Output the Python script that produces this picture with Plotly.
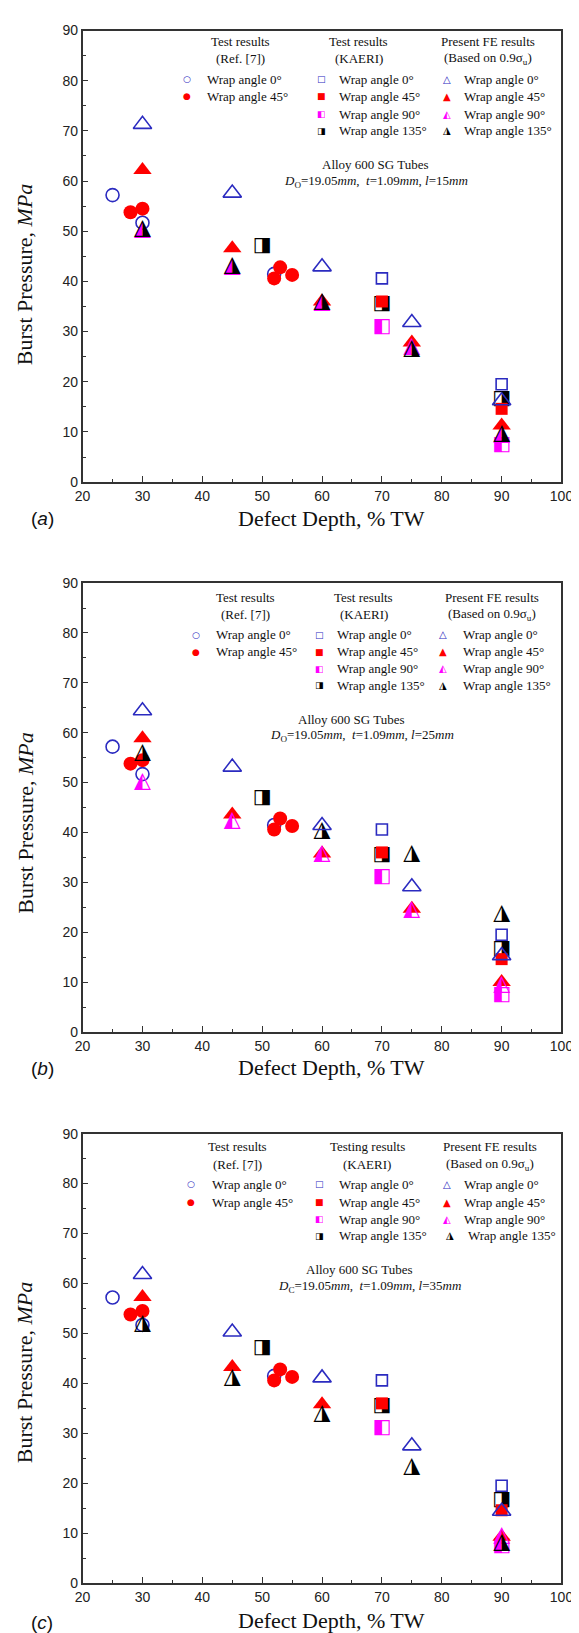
import plotly.graph_objects as go

W, H = 579, 1633

# ---------------- data ----------------
# Test results (Ref. [7]) - same in all panels
ref7_0_x = [25, 30, 52]
ref7_0_y = [57.2, 51.7, 41.5]
ref7_45_x = [28, 30, 52, 53, 55]
ref7_45_y = [53.8, 54.5, 40.6, 42.8, 41.3]

# Test results (KAERI) - same in all panels
kaeri_0_x = [70, 90]
kaeri_0_y = [40.6, 19.5]
kaeri_45_x = [70, 90]
kaeri_45_y = [36.0, 14.6]
kaeri_90_x = [70, 90]
kaeri_90_y = [31.0, 7.4]
kaeri_135_x = [50, 70, 90]
kaeri_135_y = [47.0, 35.4, 16.6]

# Present FE results, panel (a) l=15mm
fe_a_0_x = [30, 45, 60, 75, 90];   fe_a_0_y = [71.3, 57.6, 42.9, 31.8, 16.2]
fe_a_45_x = [30, 45, 60, 75, 90];  fe_a_45_y = [62.2, 46.6, 36.0, 27.8, 11.3]
fe_a_90_x = [30, 45, 60, 75, 90];  fe_a_90_y = [50.3, 43.0, 35.8, 27.0, 9.4]
fe_a_135_x = [30, 45, 60, 75, 90]; fe_a_135_y = [50.6, 43.2, 35.9, 26.6, 9.6]

# panel (b) l=25mm
fe_b_0_x = [30, 45, 60, 75, 90];   fe_b_0_y = [64.4, 53.1, 41.4, 29.1, 15.3]
fe_b_45_x = [30, 45, 60, 75, 90];  fe_b_45_y = [58.9, 43.6, 35.8, 24.7, 10.0]
fe_b_90_x = [30, 45, 60, 75, 90];  fe_b_90_y = [50.2, 42.3, 35.8, 24.5, 9.6]
fe_b_135_x = [30, 60, 75, 90];     fe_b_135_y = [56.1, 40.4, 35.8, 23.8]

# panel (c) l=35mm
fe_c_0_x = [30, 45, 60, 75, 90];   fe_c_0_y = [61.8, 50.3, 41.1, 27.5, 14.4]
fe_c_45_x = [30, 45, 60, 90];      fe_c_45_y = [57.3, 43.3, 35.8, 9.3]
fe_c_90_x = [90];                  fe_c_90_y = [9.6]
fe_c_135_x = [30, 45, 60, 75, 90]; fe_c_135_y = [51.9, 41.2, 33.9, 23.3, 8.2]

x_ticks = [20, 30, 40, 50, 60, 70, 80, 90, 100]
y_ticks = [0, 10, 20, 30, 40, 50, 60, 70, 80, 90]

panels = [
    dict(label="a", l="15", dsub="O",
         fe=[(fe_a_0_x, fe_a_0_y), (fe_a_45_x, fe_a_45_y), (fe_a_90_x, fe_a_90_y), (fe_a_135_x, fe_a_135_y)],
         top=14.7, bot=470.7, kaeri_title="Test results",
         title_y=26, sub_y=43, rows=[64, 81, 99, 116],
         cc=[233, 355, 489], mm=[177, 316, 446], tt=[196, 332, 462],
         alloy=(372, 150), dline=(373, 167), lab_y=507, xt_y=507, yt_y=261),
    dict(label="b", l="25", dsub="O",
         fe=[(fe_b_0_x, fe_b_0_y), (fe_b_45_x, fe_b_45_y), (fe_b_90_x, fe_b_90_y), (fe_b_135_x, fe_b_135_y)],
         top=572.7, bot=1026.0, kaeri_title="Test results",
         title_y=587, sub_y=604, rows=[625, 642, 659, 676],
         cc=[238, 360, 493], mm=[186, 314, 442], tt=[205, 330, 461],
         alloy=(347, 710), dline=(358, 727), lab_y=1063, xt_y=1062, yt_y=815),
    dict(label="c", l="35", dsub="C",
         fe=[(fe_c_0_x, fe_c_0_y), (fe_c_45_x, fe_c_45_y), (fe_c_90_x, fe_c_90_y), (fe_c_135_x, fe_c_135_y)],
         top=1128.7, bot=1582.7, kaeri_title="Testing results",
         title_y=1142, sub_y=1160, rows=[1180, 1198, 1215, 1232],
         cc=[229, 364, 491], mm=[181, 314, 446], tt=[201, 333, 462],
         alloy=(356, 1266), dline=(366, 1283), lab_y=1622, xt_y=1620, yt_y=1370),
]

BLUE = "#2b2bc0"
RED = "#ff0000"
MAG = "#ff00ff"
BLK = "#000000"
SERIF = "Liberation Serif"
SANS = "Liberation Sans"
GLYPH = "DejaVu Sans"

X0, X1 = 69, 565


def px(v):
    return v / W


def py(v):
    return 1 - v / H


fig = go.Figure()
annotations = []

for i, p in enumerate(panels):
    sfx = "" if i == 0 else str(i + 1)
    xa, ya = "x" + sfx, "y" + sfx

    def mk(x, y, symbol, color, size, lw=1.6):
        fig.add_trace(go.Scatter(x=x, y=y, mode="markers", xaxis=xa, yaxis=ya,
                                 showlegend=False, hoverinfo="x+y",
                                 marker=dict(symbol=symbol, color=color, size=size,
                                             line=dict(width=lw if "open" in symbol else 0, color=color))))

    def txt(x, y, glyph, color, size):
        fig.add_trace(go.Scatter(x=x, y=y, mode="text", xaxis=xa, yaxis=ya,
                                 showlegend=False, text=[glyph] * len(x),
                                 textposition="middle center",
                                 textfont=dict(family=GLYPH, size=size, color=color)))

    # Ref. [7]
    mk(ref7_0_x, ref7_0_y, "circle-open", BLUE, 13)
    mk(ref7_45_x, ref7_45_y, "circle", RED, 14)
    # KAERI
    mk(kaeri_0_x, kaeri_0_y, "square-open", BLUE, 11)
    txt(kaeri_135_x, kaeri_135_y, "\u25E8", BLK, 20)
    mk(kaeri_45_x, kaeri_45_y, "square", RED, 12)
    txt(kaeri_90_x, kaeri_90_y, "\u25E7", MAG, 20)
    # FE
    (f0, f45, f90, f135) = p["fe"]
    mk(f45[0], f45[1], "triangle-up", RED, 16)
    txt(f90[0], f90[1], "\u25ED", MAG, 22)
    txt(f135[0], f135[1], "\u25EE", BLK, 22)
    mk(f0[0], f0[1], "triangle-up-open", BLUE, 16)

    ydom = [py(p["bot"]), py(p["top"])]
    common = dict(showgrid=False, zeroline=False, showline=True, linecolor="#333333",
                  linewidth=1.6, mirror=True, ticks="inside", ticklen=6, tickwidth=1.3,
                  tickcolor="#333333",
                  tickfont=dict(family=SANS, size=14, color="#222222"))
    fig.update_layout(**{
        ("xaxis" + sfx): dict(common, range=[20, 100], tickvals=x_ticks, anchor=ya,
                              domain=[px(X0), px(X1)],
                              minor=dict(dtick=5, tick0=20, ticks="inside", ticklen=3.5,
                                         tickwidth=1.2, tickcolor="#333333")),
        ("yaxis" + sfx): dict(common, range=[0, 90], tickvals=y_ticks, anchor=xa,
                              domain=ydom,
                              minor=dict(dtick=5, tick0=0, ticks="inside", ticklen=3.5,
                                         tickwidth=1.2, tickcolor="#333333")),
    })

    def ann(x, y, text, size=13, family=SERIF, color="#111111", xanchor="center"):
        annotations.append(dict(x=px(x), y=py(y), xref="paper", yref="paper", text=text,
                                showarrow=False, xanchor=xanchor, yanchor="middle",
                                font=dict(family=family, size=size, color=color)))

    # legend column titles
    c1, c2, c3 = p["cc"]
    m1, m2, m3 = p["mm"]
    t1, t2, t3 = p["tt"]
    ann(c1, p["title_y"], "Test results")
    ann(c1, p["sub_y"], "(Ref. [7])")
    ann(c2, p["title_y"], p["kaeri_title"])
    ann(c2, p["sub_y"], "(KAERI)")
    ann(c3, p["title_y"], "Present FE results")
    ann(c3, p["sub_y"], "(Based on 0.9\u03C3<sub>u</sub>)")
    r = p["rows"]
    # column 1
    ann(m1, r[0], "\u25CB", 9, GLYPH, BLUE)
    ann(t1, r[0], "Wrap angle 0\u00B0", xanchor="left")
    ann(m1, r[1], "\u25CF", 9, GLYPH, RED)
    ann(t1, r[1], "Wrap angle 45\u00B0", xanchor="left")
    # column 2
    ann(m2, r[0], "\u25A1", 9, GLYPH, BLUE)
    ann(t2, r[0], "Wrap angle 0\u00B0", xanchor="left")
    ann(m2, r[1], "\u25A0", 9, GLYPH, RED)
    ann(t2, r[1], "Wrap angle 45\u00B0", xanchor="left")
    ann(m2, r[2], "\u25E7", 9, GLYPH, MAG)
    ann(t2, r[2], "Wrap angle 90\u00B0", xanchor="left")
    ann(m2, r[3], "\u25E8", 9, GLYPH, BLK)
    ann(t2, r[3], "Wrap angle 135\u00B0", xanchor="left")
    # column 3
    ann(m3, r[0], "\u25B3", 10, GLYPH, BLUE)
    ann(t3, r[0], "Wrap angle 0\u00B0", xanchor="left")
    ann(m3, r[1], "\u25B2", 10, GLYPH, RED)
    ann(t3, r[1], "Wrap angle 45\u00B0", xanchor="left")
    ann(m3, r[2], "\u25ED", 10, GLYPH, MAG)
    ann(t3, r[2], "Wrap angle 90\u00B0", xanchor="left")
    off = 4 if p["label"] == "c" else 0
    ann(m3 + off, r[3], "\u25EE", 10, GLYPH, BLK)
    ann(t3 + off, r[3], "Wrap angle 135\u00B0", xanchor="left")

    # description
    ann(p["alloy"][0], p["alloy"][1], "Alloy 600 SG Tubes")
    ann(p["dline"][0], p["dline"][1],
        "<i>D</i><sub>%s</sub>=19.05<i>mm</i>,  <i>t</i>=1.09<i>mm</i>, <i>l</i>=%s<i>mm</i>"
        % (p["dsub"], p["l"]))

    # axis titles
    ann(327, p["xt_y"], "Defect Depth, % TW", 22, SERIF, "#111111")
    annotations.append(dict(x=px(9), y=py(p["yt_y"]), xref="paper", yref="paper",
                            text="Burst Pressure, <i>MPa</i>", textangle=-90,
                            showarrow=False, xanchor="center", yanchor="middle",
                            font=dict(family=SERIF, size=22, color="#111111")))
    # panel label
    ann(27, p["lab_y"], "(<i>%s</i>)" % p["label"], 19, SANS, "#111111")

fig.update_layout(
    width=W, height=H,
    margin=dict(l=0, r=0, t=0, b=0),
    paper_bgcolor="white", plot_bgcolor="white",
    showlegend=False,
    annotations=annotations,
)

fig.write_html("out.html")
